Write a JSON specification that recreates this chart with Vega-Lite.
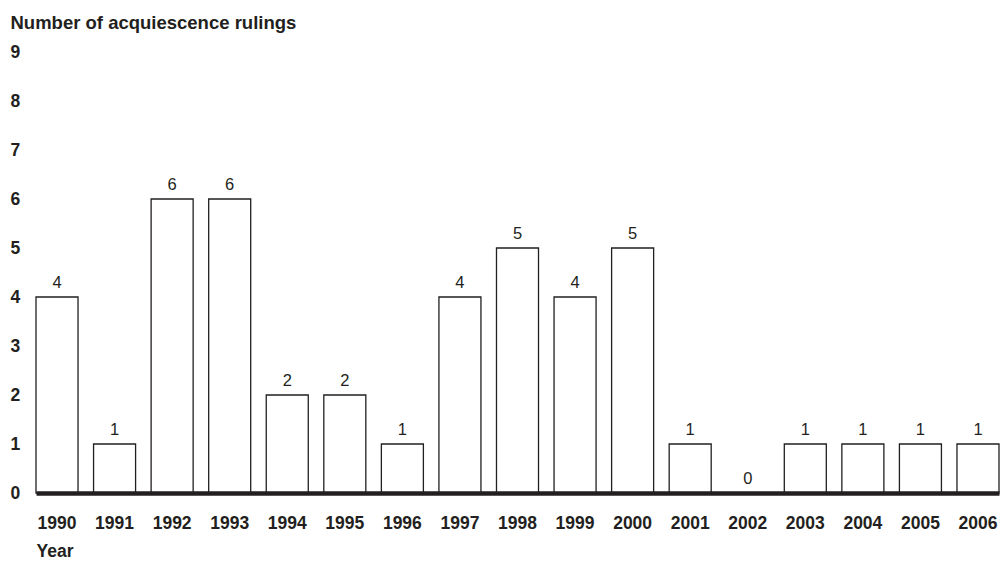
{
  "$schema": "https://vega.github.io/schema/vega-lite/v6.json",
  "autosize": "none",
  "padding": {"left": 36, "top": 52, "right": 1, "bottom": 69},
  "width": 963,
  "height": 441,
  "background": "white",
  "config": {
    "view": {"stroke": null},
    "font": "Liberation Sans",
    "axis": {"labelFont": "Liberation Sans", "titleFont": "Liberation Sans", "labelColor": "#231f20", "titleColor": "#231f20"}
  },
  "data": {
    "values": [
      {"year": "1990", "count": 4},
      {"year": "1991", "count": 1},
      {"year": "1992", "count": 6},
      {"year": "1993", "count": 6},
      {"year": "1994", "count": 2},
      {"year": "1995", "count": 2},
      {"year": "1996", "count": 1},
      {"year": "1997", "count": 4},
      {"year": "1998", "count": 5},
      {"year": "1999", "count": 4},
      {"year": "2000", "count": 5},
      {"year": "2001", "count": 1},
      {"year": "2002", "count": 0},
      {"year": "2003", "count": 1},
      {"year": "2004", "count": 1},
      {"year": "2005", "count": 1},
      {"year": "2006", "count": 1}
    ]
  },
  "encoding": {
    "x": {
      "field": "year",
      "type": "ordinal",
      "sort": null,
      "scale": {"paddingInner": 0.27, "paddingOuter": 0},
      "axis": {
        "title": "Year",
        "titleFontSize": 17.5,
        "titleFontWeight": "bold",
        "titleAnchor": "start",
        "titleAlign": "left",
        "titleBaseline": "middle",
        "titleX": 0,
        "titleY": 58,
        "labelAngle": 0,
        "labelFontSize": 17.5,
        "labelFontWeight": "bold",
        "labelBaseline": "middle",
        "labelPadding": 30,
        "ticks": false,
        "domain": true,
        "domainWidth": 4.5,
        "domainColor": "#231f20",
        "zindex": 1
      }
    },
    "y": {
      "field": "count",
      "type": "quantitative",
      "scale": {"domain": [0, 9], "nice": false},
      "axis": {
        "title": "Number of acquiescence rulings",
        "titleFontSize": 18.5,
        "titleFontWeight": "bold",
        "titleAngle": 0,
        "titleAlign": "left",
        "titleBaseline": "middle",
        "titleX": -26,
        "titleY": -30,
        "values": [0, 1, 2, 3, 4, 5, 6, 7, 8, 9],
        "labelFontSize": 17.5,
        "labelFontWeight": "bold",
        "labelAlign": "left",
        "labelBaseline": "middle",
        "labelPadding": 26,
        "ticks": false,
        "domain": false,
        "grid": false
      }
    }
  },
  "layer": [
    {
      "mark": {"type": "bar", "fill": "white", "stroke": "#231f20", "strokeWidth": 1.3}
    },
    {
      "mark": {"type": "text", "baseline": "bottom", "dy": -6, "fontSize": 16.5, "color": "#231f20"},
      "encoding": {"text": {"field": "count", "type": "quantitative"}}
    }
  ]
}
